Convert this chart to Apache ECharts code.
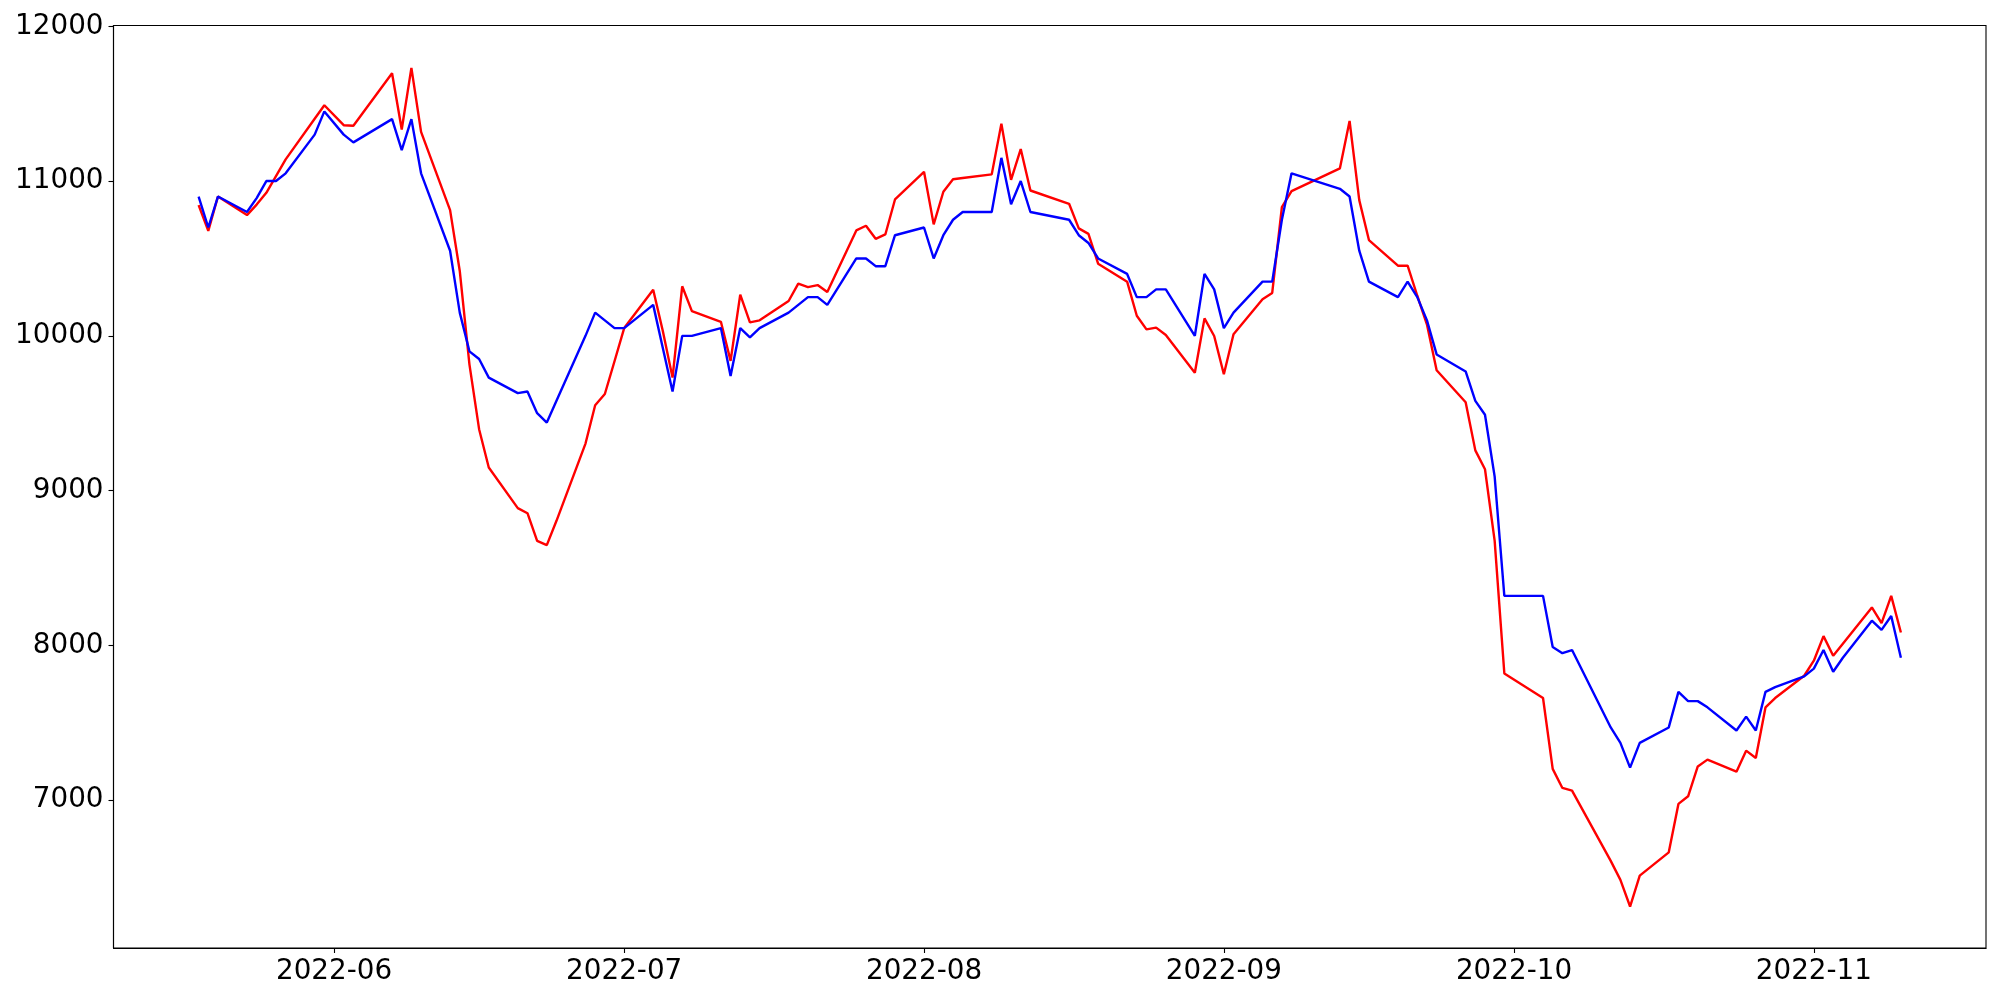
<!DOCTYPE html>
<html>
<head>
<meta charset="utf-8">
<script src="https://cdn.jsdelivr.net/npm/echarts@6/dist/echarts.min.js"></script>
<style>
html,body{margin:0;padding:0;background:#fff;}
#chart{width:2000px;height:1000px;}
</style>
</head>
<body>
<div id="chart"></div>
<script>
const dates = [
"2022-05-18","2022-05-19","2022-05-20","2022-05-23","2022-05-24","2022-05-25","2022-05-26","2022-05-27","2022-05-30","2022-05-31",
"2022-06-02","2022-06-03","2022-06-07","2022-06-08","2022-06-09","2022-06-10","2022-06-13","2022-06-14","2022-06-15","2022-06-16",
"2022-06-17","2022-06-20","2022-06-21","2022-06-22","2022-06-23","2022-06-24","2022-06-27","2022-06-28","2022-06-29","2022-06-30",
"2022-07-01","2022-07-04","2022-07-05","2022-07-06","2022-07-07","2022-07-08","2022-07-11","2022-07-12","2022-07-13","2022-07-14",
"2022-07-15","2022-07-18","2022-07-19","2022-07-20","2022-07-21","2022-07-22","2022-07-25","2022-07-26","2022-07-27","2022-07-28",
"2022-07-29","2022-08-01","2022-08-02","2022-08-03","2022-08-04","2022-08-05","2022-08-08","2022-08-09","2022-08-10","2022-08-11",
"2022-08-12","2022-08-16","2022-08-17","2022-08-18","2022-08-19","2022-08-22","2022-08-23","2022-08-24","2022-08-25","2022-08-26",
"2022-08-29","2022-08-30","2022-08-31","2022-09-01","2022-09-02","2022-09-05","2022-09-06","2022-09-07","2022-09-08","2022-09-13",
"2022-09-14","2022-09-15","2022-09-16","2022-09-19","2022-09-20","2022-09-21","2022-09-22","2022-09-23","2022-09-26","2022-09-27",
"2022-09-28","2022-09-29","2022-09-30","2022-10-04","2022-10-05","2022-10-06","2022-10-07","2022-10-11","2022-10-12","2022-10-13",
"2022-10-14","2022-10-17","2022-10-18","2022-10-19","2022-10-20","2022-10-21","2022-10-24","2022-10-25","2022-10-26","2022-10-27",
"2022-10-28","2022-10-31","2022-11-01","2022-11-02","2022-11-03","2022-11-04","2022-11-07","2022-11-08","2022-11-09","2022-11-10"
];

const redValues = [
10845,10678,10900,10780,10848,10924,11032,11140,11403,11490,
11361,11357,11697,11333,11731,11318,10812,10419,9816,9397,
9149,8887,8854,8675,8648,8805,9304,9552,9624,9836,
10050,10298,10029,9730,10320,10160,10091,9838,10266,10087,
10100,10225,10337,10315,10328,10283,10681,10711,10627,10655,
10881,11060,10720,10931,11012,11020,11043,11371,11008,11207,
10939,10853,10694,10659,10466,10350,10130,10042,10053,10005,
9762,10113,9999,9752,10010,10236,10277,10832,10935,11082,
11388,10877,10619,10453,10453,10259,10073,9778,9571,9260,
9138,8675,7819,7660,7202,7079,7062,6608,6485,6313,
6513,6663,6976,7025,7218,7262,7184,7320,7273,7599,
7660,7804,7901,8060,7933,8011,8245,8144,8320,8083
];

const blueValues = [
10900,10700,10900,10800,10890,11000,11000,11050,11300,11450,
11300,11250,11400,11200,11400,11050,10550,10150,9900,9850,
9730,9630,9640,9500,9440,9580,10000,10150,10100,10050,
10050,10200,9920,9640,10000,10000,10050,9740,10050,9990,
10050,10150,10200,10250,10250,10200,10500,10500,10450,10450,
10650,10700,10500,10650,10750,10800,10800,11150,10850,11000,
10800,10750,10650,10600,10500,10400,10250,10250,10300,10300,
10000,10400,10300,10050,10150,10350,10350,10750,11050,10950,
10900,10550,10350,10250,10350,10250,10100,9880,9770,9580,
9490,9090,8320,8320,7990,7950,7970,7470,7370,7210,
7370,7470,7700,7640,7640,7600,7450,7540,7450,7700,
7730,7800,7850,7970,7830,7920,8160,8100,8190,7920
];

const yTicks = [7000, 8000, 9000, 10000, 11000, 12000];
const xTickMonths = ["2022-06-01","2022-07-01","2022-08-01","2022-09-01","2022-10-01","2022-11-01"];

function ts(s){ const p = s.split('-').map(Number); return Date.UTC(p[0], p[1]-1, p[2]); }
const DAY = 86400000;
const xs = dates.map(ts);
const xMin = xs[0] - 8.8 * DAY;
const xMax = xs[xs.length-1] + 8.8 * DAY;
const xTickVals = xTickMonths.map(ts);

const chart = echarts.init(document.getElementById('chart'), null, {renderer:'canvas'});
const fontFamily = 'DejaVu Sans';
chart.setOption({
  animation: false,
  backgroundColor: '#ffffff',
  grid: { left: 113.5, right: 14, top: 25.5, bottom: 52, show: true, borderColor: '#000', borderWidth: 1.1, backgroundColor: 'transparent' },
  xAxis: {
    type: 'value',
    min: xMin, max: xMax,
    axisLine: { show: true, onZero: false, lineStyle: { color: '#000', width: 1.1 } },
    axisTick: { show: true, length: 5, lineStyle: { color: '#000', width: 1.1 }, customValues: xTickVals },
    axisLabel: {
      customValues: xTickVals,
      margin: 10, color: '#000', fontSize: 27.8, fontFamily: fontFamily,
      formatter: function(v){ const d = new Date(v); return d.getUTCFullYear() + '-' + String(d.getUTCMonth()+1).padStart(2,'0'); }
    },
    splitLine: { show: false }
  },
  yAxis: {
    type: 'value',
    min: 6045, max: 12005,
    axisLine: { show: true, lineStyle: { color: '#000', width: 1.1 } },
    axisTick: { show: true, length: 5, lineStyle: { color: '#000', width: 1.1 }, customValues: yTicks },
    axisLabel: { customValues: yTicks, margin: 10, color: '#000', fontSize: 27.8, fontFamily: fontFamily,
      formatter: function(v){ return String(Math.round(v)); } },
    splitLine: { show: false }
  },
  series: [
    { type: 'line', name: 'red', data: xs.map((x,i)=>[x, redValues[i]]), showSymbol: false, symbol: 'none',
      lineStyle: { color: '#ff0000', width: 2.4 }, itemStyle: { color: '#ff0000' } },
    { type: 'line', name: 'blue', data: xs.map((x,i)=>[x, blueValues[i]]), showSymbol: false, symbol: 'none',
      lineStyle: { color: '#0000ff', width: 2.4 }, itemStyle: { color: '#0000ff' } }
  ]
});
</script>
</body>
</html>
